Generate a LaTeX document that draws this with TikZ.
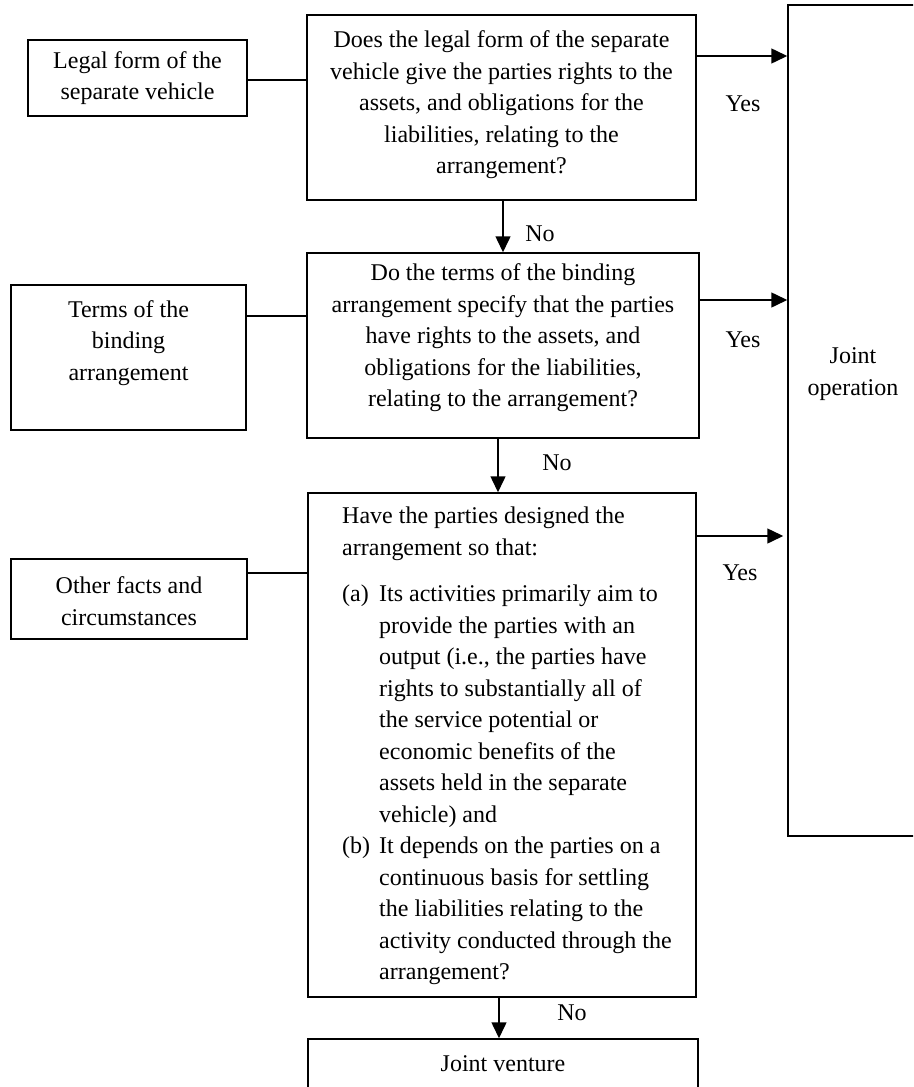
\documentclass[tikz,border=0pt]{standalone}
\usepackage{fontspec}
\setmainfont{Liberation Serif}
\usetikzlibrary{arrows.meta}
\tikzset{
  box/.style={draw, line width=1.5pt, inner sep=0pt, rectangle},
  txt/.style={inner sep=0pt, align=center, font=\fontsize{24}{31.5}\selectfont},
  lbl/.style={inner sep=0pt, font=\fontsize{24}{31.5}\selectfont},
  link/.style={line width=1.5pt},
  arr/.style={line width=1.5pt, -{Triangle[length=16pt,width=15pt]}},
}
\begin{document}
\begin{tikzpicture}[x=1pt,y=-1pt]
\clip (0,0) rectangle (913,1087);
% boxes
\node[box, minimum width=219pt, minimum height=76pt] (legal) at (137.5,78) {};
\node[box, minimum width=235pt, minimum height=145pt] (terms) at (128.5,357.5) {};
\node[box, minimum width=236pt, minimum height=80pt] (other) at (129,599) {};
\node[box, minimum width=389pt, minimum height=185pt] (q1) at (501.5,107.5) {};
\node[box, minimum width=392pt, minimum height=185pt] (q2) at (503,345.5) {};
\node[box, minimum width=388pt, minimum height=504pt] (q3) at (502,745) {};
\node[box, minimum width=390pt, minimum height=80pt] (jv) at (503,1079) {};
\node[box, minimum width=150pt, minimum height=831pt] (jo) at (863,420.5) {};
% texts
\node[txt] (legalt) at (137.5,78) {Legal form of the\\separate vehicle};
\node[txt] (termst) at (128.5,343) {Terms of the\\binding\\arrangement};
\node[txt] (othert) at (129,601) {Other facts and\\circumstances};
\node[txt] (q1t) at (501.5,105) {Does the legal form of the separate\\vehicle give the parties rights to the\\assets, and obligations for the\\liabilities, relating to the\\arrangement?};
\node[txt] (q2t) at (503,338) {Do the terms of the binding\\arrangement specify that the parties\\have rights to the assets, and\\obligations for the liabilities,\\relating to the arrangement?};
\node[txt, align=left, anchor=west] (q3t) at (342,746) {Have the parties designed the\\
arrangement so that:\\[15pt]
\makebox[37pt][l]{(a)}Its activities primarily aim to\\
\hspace*{37pt}provide the parties with an\\
\hspace*{37pt}output (i.e., the parties have\\
\hspace*{37pt}rights to substantially all of\\
\hspace*{37pt}the service potential or\\
\hspace*{37pt}economic benefits of the\\
\hspace*{37pt}assets held in the separate\\
\hspace*{37pt}vehicle) and\\
\makebox[37pt][l]{(b)}It depends on the parties on a\\
\hspace*{37pt}continuous basis for settling\\
\hspace*{37pt}the liabilities relating to the\\
\hspace*{37pt}activity conducted through the\\
\hspace*{37pt}arrangement?};
\node[txt] (jvt) at (503,1064) {Joint venture};
\node[txt] (jot) at (853,374) {Joint\\operation};
% connectors
\draw[link] (legal.east |- 0,80) -- (q1.west |- 0,80);
\draw[link] (terms.east |- 0,316) -- (q2.west |- 0,316);
\draw[link] (other.east |- 0,573) -- (q3.west |- 0,573);
\draw[arr] (q1.east |- 0,56) -- (jo.west |- 0,56);
\draw[arr] (q2.east |- 0,300) -- (jo.west |- 0,300);
\draw[arr, shorten >=4pt] (q3.east |- 0,536) -- (jo.west |- 0,536);
\draw[arr] (q1.south -| 503,0) -- (q2.north -| 503,0);
\draw[arr] (q2.south -| 498,0) -- (q3.north -| 498,0);
\draw[arr] (q3.south -| 499,0) -- (jv.north -| 499,0);
% labels
\node[lbl] (y1) at (743,104) {Yes};
\node[lbl] (y2) at (743,340) {Yes};
\node[lbl] (y3) at (740,573) {Yes};
\node[lbl] (n1) at (540,234) {No};
\node[lbl] (n2) at (557,463) {No};
\node[lbl] (n3) at (572,1013) {No};
\end{tikzpicture}
\end{document}
